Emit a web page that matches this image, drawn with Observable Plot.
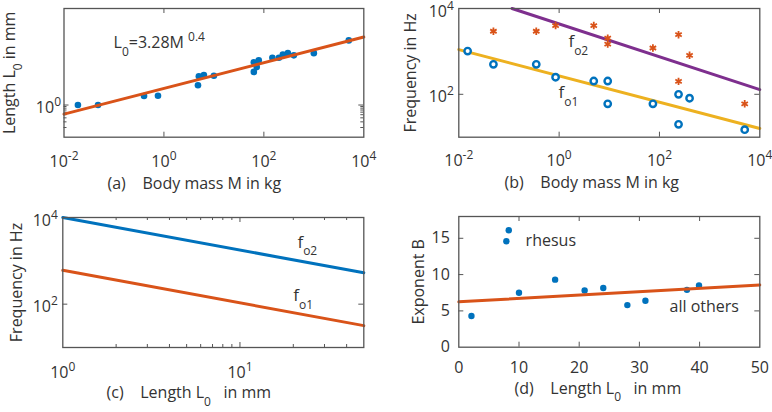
<!DOCTYPE html>
<html><head><meta charset="utf-8">
<script src="https://cdn.jsdelivr.net/npm/d3@7"></script>
<script src="https://cdn.jsdelivr.net/npm/@observablehq/plot@0.6"></script>
<style>
body{margin:0;background:#fff;}
#wrap{position:relative;width:772px;height:412px;overflow:hidden;background:#fff;}
#wrap svg text{white-space:pre;}
</style></head><body><div id="wrap"></div>
<script>
// ---------- DATA ----------
// (a) body mass vs cochlear length
const aMass   = [0.019, 0.048, 0.40, 0.76, 4.8, 5.0, 6.3, 10, 63, 63, 72, 79, 148, 200, 240, 302, 398, 1000, 5000];
const aLength = [1.0, 1.0, 1.9, 1.95, 4.1, 7.8, 8.5, 8.1, 10.7, 21.4, 15.1, 24.5, 29.5, 29.5, 37, 41, 35, 41, 102];
const aFitMass = [0.01, 10000];
const aFitLength = [0.52, 130];
const aXTicks = [1e-2, 1, 1e2, 1e4];
const aYTicks = [1];
const aYMinor = [0.2, 0.3, 0.4, 0.5, 0.6, 0.7, 0.8, 0.9];
const aNote = ["L_{0}=3.28M ^{0.4}"]; const aNoteMass = [0.098]; const aNoteLength = [83];

// (b) body mass vs frequency
const bMassO = [0.015, 0.049, 0.35, 0.85, 4.9, 9.3, 9.3, 74, 240, 240, 398, 5000];
const bFreqO = [1020, 500, 500, 250, 204, 204, 60, 60, 100, 20, 81, 15];
const bMassX = [0.049, 0.35, 0.85, 4.9, 9.3, 9.3, 74, 240, 398, 240, 5000];
const bFreqX = [2950, 2950, 4000, 4000, 2040, 1480, 1200, 2450, 810, 200, 60];
const bFo2Mass = [0.115, 10000]; const bFo2Freq = [10000, 129];
const bFo1Mass = [0.01, 10000];  const bFo1Freq = [1100, 16];
const bXTicks = [1e-2, 1, 1e2, 1e4];
const bYTicks = [1e2, 1e4];
const bNotes = ["f_{o2}", "f_{o1}"]; const bNoteMass = [1.53, 0.97]; const bNoteFreq = [1660, 107];

// (c) length vs frequency
const cLength = [1, 50];
const cFo2 = [10000, 530];
const cFo1 = [605, 32];
const cXTicks = [1, 10];
const cXMinor = [2, 3, 4, 5, 6, 7, 8, 9, 20, 30, 40];
const cYTicks = [1e2, 1e4];
const cNotes = ["f_{o2}", "f_{o1}"]; const cNoteLength = [21.1, 20]; const cNoteFreq = [2700, 158];

// (d) length vs exponent B
const dLength = [2.1, 7.9, 8.3, 10.0, 16.0, 20.9, 24.0, 28.0, 31.0, 37.9, 39.9];
const dB      = [4.3, 14.6, 16.1, 7.5, 9.3, 7.8, 8.15, 5.8, 6.4, 7.9, 8.5];
const dFitLength = [0, 50]; const dFitB = [6.25, 8.57];
const dXTicks = [0, 10, 20, 30, 40, 50];
const dYTicks = [0, 5, 10, 15];
const dNotes = ["rhesus", "all others"]; const dNoteLength = [11.1, 35.0]; const dNoteB = [14.7, 5.55];

// ---------- STYLE ----------
const BLUE = "#0072BD", ORANGE = "#D95319", YELLOW = "#EDB120", PURPLE = "#7E2F8E";
const AX = "#555", TXT = "#333";
const W = 386, H = 206;
const FONT = "'Open Sans', sans-serif";
const pow10 = d => "10^{" + Math.round(Math.log10(d)) + "}";

const SUB = 7.5, SUP = -7, SMALL = "12px";
function richify(svg) {
  for (const t of svg.querySelectorAll("text")) {
    const s = t.textContent;
    if (!/[_^]\{/.test(s)) continue;
    t.textContent = "";
    const re = /([_^])\{([^}]*)\}|([^_^]+)/g;
    let m, cur = 0;
    while ((m = re.exec(s)) !== null) {
      const ts = document.createElementNS("http://www.w3.org/2000/svg", "tspan");
      let target = 0;
      if (m[1]) { target = m[1] === "_" ? SUB : SUP; ts.textContent = m[2]; ts.setAttribute("font-size", SMALL); }
      else ts.textContent = m[3];
      if (target !== cur) ts.setAttribute("dy", target - cur);
      cur = target;
      t.appendChild(ts);
    }
  }
}

function ticksX(vals, len, innerH) {
  return [
    Plot.tickX(vals, {x: d => d, insetTop: innerH - len, stroke: AX}),
    Plot.tickX(vals, {x: d => d, insetBottom: innerH - len, stroke: AX})
  ];
}
function ticksY(vals, len, innerW) {
  return [
    Plot.tickY(vals, {y: d => d, insetRight: innerW - len, stroke: AX}),
    Plot.tickY(vals, {y: d => d, insetLeft: innerW - len, stroke: AX})
  ];
}
function label(text, opts) {
  return Plot.text([text], {text: d => d, fill: TXT, fontSize: 16, ...opts});
}

const wrap = document.getElementById("wrap");
function panel(left, top, m, x, y, marks) {
  const svg = Plot.plot({
    width: W, height: H,
    marginLeft: m[0], marginRight: m[1], marginTop: m[2], marginBottom: m[3],
    x, y,
    style: {fontFamily: FONT, fontSize: "16px", color: TXT, background: "transparent", overflow: "visible"},
    marks: [...marks, Plot.frame({stroke: AX, strokeWidth: 1.3})]
  });
  svg.style.position = "absolute";
  svg.style.left = left + "px";
  svg.style.top = top + "px";
  richify(svg);
  wrap.appendChild(svg);
}

// (a)
{
  const m = [63.5, 22.7, 8, 69.3];
  const iW = W - m[0] - m[1], iH = H - m[2] - m[3];
  panel(0, 0, m, {type: "log", domain: [1e-2, 1e4]}, {type: "log", domain: [0.1, 1000]}, [
    Plot.axisX({ticks: aXTicks, anchor: "bottom", tickSize: 0, tickPadding: 18, tickFormat: pow10}),
    Plot.axisY({ticks: aYTicks, anchor: "left", tickSize: 0, tickPadding: 3, dy: 3, tickFormat: pow10}),
    ...ticksX([1, 100], 5, iH),
    ...ticksY(aYTicks, 5, iW),
    ...ticksY(aYMinor, 3, iW),
    Plot.dot(aMass, {x: aMass, y: aLength, r: 3.3, fill: BLUE}),
    Plot.line(aFitMass, {x: aFitMass, y: aFitLength, stroke: ORANGE, strokeWidth: 3}),
    Plot.text(aNote, {x: aNoteMass, y: aNoteLength, text: d => d, textAnchor: "start", fill: TXT, fontSize: 16}),
    label("(a)    Body mass M in kg", {frameAnchor: "bottom-left", dx: 43.5, dy: 51.3, textAnchor: "start"}),
    label("Length L_{0} in mm", {frameAnchor: "left", rotate: -90, dx: -54.3, textAnchor: "middle"})
  ]);
}
// (b)
{
  const m = [72.3, 12.7, 8, 69.3];
  const iW = W - m[0] - m[1], iH = H - m[2] - m[3];
  panel(386, 0, m, {type: "log", domain: [1e-2, 1e4]}, {type: "log", domain: [10, 1e4]}, [
    Plot.axisX({ticks: bXTicks, anchor: "bottom", tickSize: 0, tickPadding: 17, tickFormat: pow10}),
    Plot.axisY({ticks: bYTicks, anchor: "left", tickSize: 0, tickPadding: 5, dy: 3, tickFormat: pow10}),
    ...ticksX([1, 100], 5, iH),
    ...ticksY([100], 5, iW),
    Plot.line(bFo2Mass, {x: bFo2Mass, y: bFo2Freq, stroke: PURPLE, strokeWidth: 3}),
    Plot.line(bFo1Mass, {x: bFo1Mass, y: bFo1Freq, stroke: YELLOW, strokeWidth: 3}),
    Plot.dot(bMassX, {x: bMassX, y: bFreqX, symbol: "asterisk", r: 3.5, stroke: ORANGE, strokeWidth: 1.8}),
    Plot.dot(bMassO, {x: bMassO, y: bFreqO, r: 3.2, stroke: BLUE, strokeWidth: 2.4, fill: "white"}),
    Plot.text(bNotes, {x: bNoteMass, y: bNoteFreq, text: d => d, textAnchor: "start", fill: TXT, fontSize: 17}),
    label("(b)    Body mass M in kg", {frameAnchor: "bottom-left", dx: 45.7, dy: 50.3, textAnchor: "start"}),
    label("Frequency in Hz", {frameAnchor: "left", rotate: -90, dx: -47.8, textAnchor: "middle"})
  ]);
}
// (c)
{
  const m = [62.3, 22.7, 11, 65];
  const iW = W - m[0] - m[1], iH = H - m[2] - m[3];
  panel(0, 206, m, {type: "log", domain: [1, 50]}, {type: "log", domain: [10, 1e4]}, [
    Plot.axisX({ticks: cXTicks, anchor: "bottom", tickSize: 0, tickPadding: 19, tickFormat: pow10}),
    Plot.axisY({ticks: cYTicks, anchor: "left", tickSize: 0, tickPadding: 5, dy: 3, tickFormat: pow10}),
    ...ticksX([10], 5, iH),
    ...ticksX(cXMinor, 3, iH),
    ...ticksY([100], 5, iW),
    Plot.line(cLength, {x: cLength, y: cFo2, stroke: BLUE, strokeWidth: 3}),
    Plot.line(cLength, {x: cLength, y: cFo1, stroke: ORANGE, strokeWidth: 3}),
    Plot.text(cNotes, {x: cNoteLength, y: cNoteFreq, text: d => d, textAnchor: "start", fill: TXT, fontSize: 17}),
    label("(c)    Length L_{0}   in mm", {frameAnchor: "bottom-left", dx: 43.7, dy: 50.5, textAnchor: "start"}),
    label("Frequency in Hz", {frameAnchor: "left", rotate: -90, dx: -46.4, textAnchor: "middle"})
  ]);
}
// (d)
{
  const m = [72.3, 12.7, 10, 65.3];
  const iW = W - m[0] - m[1], iH = H - m[2] - m[3];
  panel(386, 206, m, {type: "linear", domain: [0, 50]}, {type: "linear", domain: [0, 18]}, [
    Plot.axisX({ticks: dXTicks, anchor: "bottom", tickSize: 0, tickPadding: 14.3, tickFormat: d => String(d)}),
    Plot.axisY({ticks: dYTicks, anchor: "left", tickSize: 0, tickPadding: 9, tickFormat: d => String(d)}),
    ...ticksX([10, 20, 30, 40], 5, iH),
    ...ticksY([5, 10, 15], 5, iW),
    Plot.dot(dLength, {x: dLength, y: dB, r: 3.2, fill: BLUE}),
    Plot.line(dFitLength, {x: dFitLength, y: dFitB, stroke: ORANGE, strokeWidth: 3}),
    Plot.text(dNotes, {x: dNoteLength, y: dNoteB, text: d => d, textAnchor: "start", fill: TXT, fontSize: 16}),
    label("(d)    Length L_{0}   in mm", {frameAnchor: "bottom-left", dx: 55.7, dy: 46.6, textAnchor: "start"}),
    label("Exponent B", {frameAnchor: "left", rotate: -90, dx: -39.7, textAnchor: "middle"})
  ]);
}
</script>
</body></html>
